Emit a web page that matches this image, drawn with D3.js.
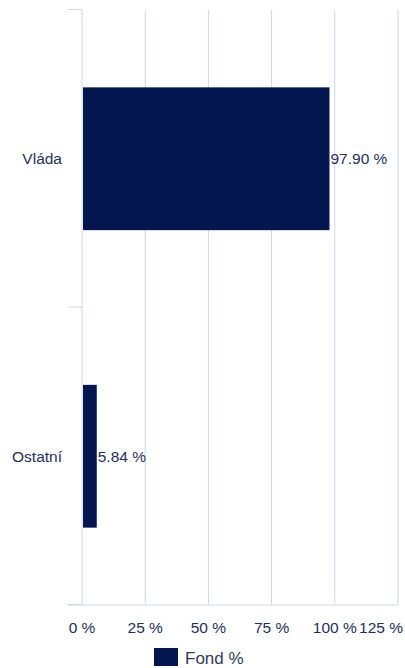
<!DOCTYPE html>
<html><head><meta charset="utf-8">
<script src="https://cdn.jsdelivr.net/npm/d3@7"></script>
<style>body{margin:0;background:#fff;}svg{display:block;font-family:"Liberation Sans",Arial,sans-serif;}</style>
</head><body>
<script>
const categories = ["Vláda", "Ostatní"];
const values = [97.90, 5.84];
const xTicks = [0, 25, 50, 75, 100, 125];
const seriesName = "Fond %";

const W = 405, H = 668;
const m = {left: 82, right: 7, top: 10, bottom: 63};
const svg = d3.select("body").append("svg").attr("width", W).attr("height", H);
const x = d3.scaleLinear().domain([0, 125]).range([m.left, W - m.right]);
const y = d3.scaleBand().domain(categories).range([m.top, H - m.bottom]).paddingInner(0.52).paddingOuter(0.26);
const gridC = "#ccd6eb", textC = "#1f2f5c", barC = "#03164f";
const fs = 15.5;

// grid
svg.append("g").selectAll("line").data(xTicks.slice(1)).join("line")
  .attr("x1", d => x(d)).attr("x2", d => x(d))
  .attr("y1", m.top).attr("y2", H - m.bottom)
  .attr("stroke", gridC).attr("stroke-width", 1);

// category axis
const bandEdges = [m.top, (m.top + H - m.bottom) / 2, H - m.bottom];
svg.append("line").attr("x1", m.left).attr("x2", m.left).attr("y1", m.top - 1).attr("y2", H - m.bottom)
  .attr("stroke", gridC);
svg.append("g").selectAll("line").data(bandEdges).join("line")
  .attr("x1", m.left - 14).attr("x2", m.left).attr("y1", d => d - 0.5).attr("y2", d => d - 0.5)
  .attr("stroke", gridC);
svg.append("line").attr("x1", m.left - 14).attr("x2", W - m.right).attr("y1", H - m.bottom).attr("y2", H - m.bottom)
  .attr("stroke", gridC);

// bars
svg.append("g").selectAll("rect").data(values).join("rect")
  .attr("x", x(0) + 1).attr("y", (d, i) => y(categories[i]))
  .attr("width", d => x(d) - x(0) - 1).attr("height", y.bandwidth())
  .attr("fill", barC);

// value labels
svg.append("g").selectAll("text").data(values).join("text")
  .attr("x", d => x(d) + 1).attr("y", (d, i) => y(categories[i]) + y.bandwidth() / 2)
  .attr("dy", "0.35em").attr("font-size", fs).attr("fill", textC)
  .text(d => d.toFixed(2) + " %");

// category labels
svg.append("g").selectAll("text").data(categories).join("text")
  .attr("x", m.left - 20).attr("y", d => y(d) + y.bandwidth() / 2)
  .attr("dy", "0.35em").attr("text-anchor", "end").attr("font-size", fs).attr("fill", textC)
  .text(d => d);

// x tick labels (last one kept inside the page)
svg.append("g").selectAll("text").data(xTicks).join("text")
  .attr("x", (d, i) => i === xTicks.length - 1 ? W - 2 : x(d))
  .attr("y", H - m.bottom + 28)
  .attr("text-anchor", (d, i) => i === xTicks.length - 1 ? "end" : "middle")
  .attr("font-size", fs).attr("fill", textC)
  .text(d => d + " %");

// legend
const lg = svg.append("g");
lg.append("rect").attr("x", 154).attr("y", 648).attr("width", 24).attr("height", 18).attr("fill", barC);
lg.append("text").attr("x", 185).attr("y", 664).attr("font-size", 17).attr("fill", "#333a55").text(seriesName);
</script>
</body></html>
